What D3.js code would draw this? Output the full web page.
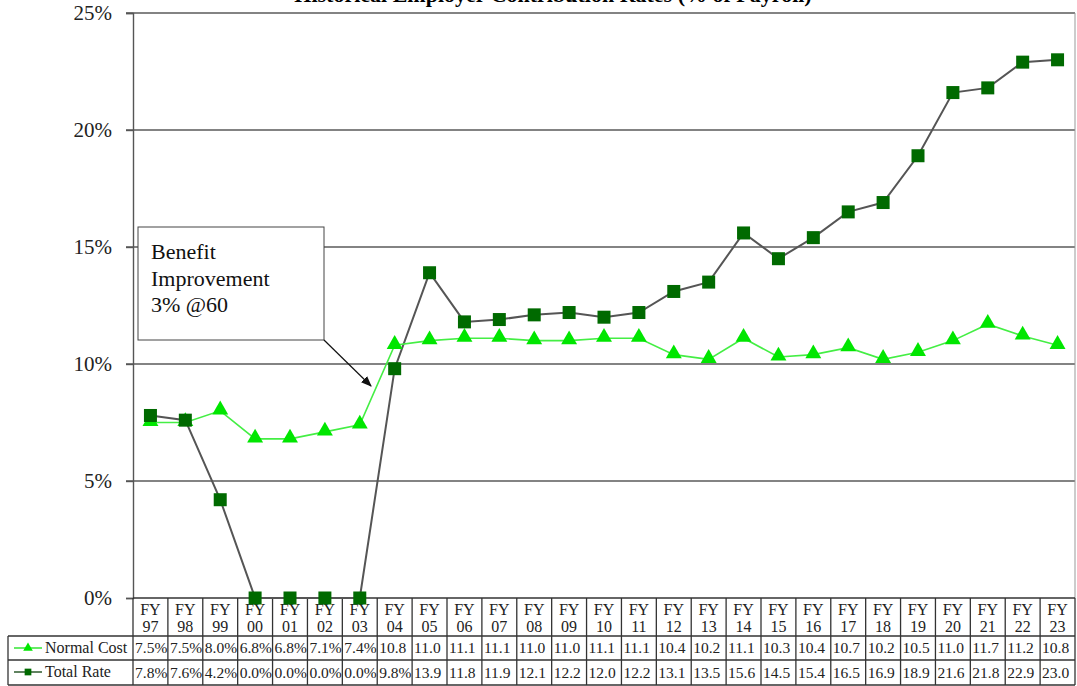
<!DOCTYPE html>
<html>
<head>
<meta charset="utf-8">
<script src="https://cdn.jsdelivr.net/npm/d3@7/dist/d3.min.js"></script>
<style>
  body { margin: 0; background: #fff; }
  svg { display: block; font-family: "Liberation Serif", "Times New Roman", serif; }
</style>
</head>
<body>
<svg id="chart"></svg>
<script>
// chart data
var years = ["97", "98", "99", "00", "01", "02", "03", "04", "05", "06", "07", "08", "09", "10",
             "11", "12", "13", "14", "15", "16", "17", "18", "19", "20", "21", "22", "23"];
var normalCost = [7.5, 7.5, 8.0, 6.8, 6.8, 7.1, 7.4, 10.8, 11.0, 11.1, 11.1, 11.0, 11.0, 11.1,
                  11.1, 10.4, 10.2, 11.1, 10.3, 10.4, 10.7, 10.2, 10.5, 11.0, 11.7, 11.2, 10.8];
var totalRate = [7.8, 7.6, 4.2, 0.0, 0.0, 0.0, 0.0, 9.8, 13.9, 11.8, 11.9, 12.1, 12.2, 12.0,
                 12.2, 13.1, 13.5, 15.6, 14.5, 15.4, 16.5, 16.9, 18.9, 21.6, 21.8, 22.9, 23.0];
var yTicks = [0, 5, 10, 15, 20, 25];
var seriesNames = ["Normal Cost", "Total Rate"];
var noteLines = ["Benefit", "Improvement", "3% @60"];
var title = "Historical Employer Contribution Rates (% of Payroll)";

(function () {
    var W = 1077, H = 686;
    var plot = {left: 133, right: 1075, top: 13, bottom: 598};
    var tbl = {left: 8, headBottom: 636, row1: 660, row2: 685};

    var svg = d3.select("#chart").attr("width", W).attr("height", H);

    var x = d3.scaleBand().domain(years).range([plot.left, plot.right]);
    var y = d3.scaleLinear().domain([0, 25]).range([plot.bottom, plot.top]);
    var cx = function (d) { return x(d) + x.bandwidth() / 2; };

    // title, cut at the top edge like the source image
    svg.append("text")
        .attr("x", 553).attr("y", 2)
        .attr("text-anchor", "middle")
        .style("font-size", "22px").style("font-weight", "bold")
        .text(title);

    // gridlines
    svg.append("g").selectAll("line")
        .data(yTicks.filter(function (t) { return t > 0; }))
        .enter().append("line")
        .attr("x1", plot.left - 7).attr("x2", plot.right)
        .attr("y1", function (d) { return y(d); }).attr("y2", function (d) { return y(d); })
        .attr("stroke", "#5a5a5a").attr("stroke-width", 1.7);

    // right frame
    svg.append("line")
        .attr("x1", plot.right).attr("x2", plot.right)
        .attr("y1", plot.top).attr("y2", plot.bottom)
        .attr("stroke", "#999").attr("stroke-width", 1);

    // y axis
    var yAxis = d3.axisLeft(y).tickValues(yTicks).tickSize(7).tickPadding(14)
        .tickFormat(function (d) { return d + "%"; });
    var gy = svg.append("g").attr("transform", "translate(" + plot.left + ",0)").call(yAxis);
    gy.select(".domain").attr("stroke", "#555").attr("stroke-width", 1.4);
    gy.selectAll(".tick line").attr("stroke", "#555").attr("stroke-width", 1.4);
    gy.selectAll(".tick text")
        .style("font-family", "'Liberation Serif', serif")
        .style("font-size", "21px").attr("fill", "#222");

    // data table
    var tg = svg.append("g").attr("stroke", "#333").attr("stroke-width", 1.3);
    tg.selectAll("line.v")
        .data(d3.range(years.length + 1))
        .enter().append("line")
        .attr("x1", function (i) { return i < years.length ? x(years[i]) : plot.right; })
        .attr("x2", function (i) { return i < years.length ? x(years[i]) : plot.right; })
        .attr("y1", plot.bottom).attr("y2", tbl.row2);
    [[plot.left, plot.bottom], [tbl.left, tbl.headBottom], [tbl.left, tbl.row1], [tbl.left, tbl.row2]]
        .forEach(function (r) {
            tg.append("line").attr("x1", r[0]).attr("x2", plot.right)
                .attr("y1", r[1]).attr("y2", r[1]);
        });
    tg.append("line").attr("x1", tbl.left).attr("x2", tbl.left)
        .attr("y1", tbl.headBottom).attr("y2", tbl.row2);

    var head = svg.append("g").selectAll("g").data(years).enter().append("g");
    head.append("text").attr("x", cx).attr("y", 615).attr("text-anchor", "middle")
        .style("font-size", "16px").attr("fill", "#222").text("FY");
    head.append("text").attr("x", cx).attr("y", 632).attr("text-anchor", "middle")
        .style("font-size", "16px").attr("fill", "#222").text(function (d) { return d; });

    var fmt = function (v) { return v < 10 ? v.toFixed(1) + "%" : v.toFixed(1); };
    [normalCost, totalRate].forEach(function (vals, r) {
        svg.append("g").selectAll("text").data(vals).enter().append("text")
            .attr("x", function (d, i) { return x(years[i]) + 2; })
            .attr("y", r === 0 ? 653 : 678)
            .style("font-size", "15.5px").attr("fill", "#222")
            .text(fmt);
    });

    // legend cells
    var legY = [648, 672];
    var legColors = [{line: "#33e633", mark: "#00e600"}, {line: "#2d5a2d", mark: "#006a00"}];
    seriesNames.forEach(function (name, i) {
        svg.append("line").attr("x1", 14).attr("x2", 42)
            .attr("y1", legY[i]).attr("y2", legY[i])
            .attr("stroke", legColors[i].line).attr("stroke-width", 1.5);
        svg.append("path")
            .attr("d", d3.symbol().type(i === 0 ? d3.symbolTriangle : d3.symbolSquare).size(i === 0 ? 40 : 45))
            .attr("transform", "translate(28," + legY[i] + ")")
            .attr("fill", legColors[i].mark);
        svg.append("text").attr("x", 45).attr("y", legY[i] + 5)
            .style("font-size", "16px").attr("fill", "#222").text(name);
    });

    // lines
    var line = d3.line().x(function (d, i) { return cx(years[i]); }).y(function (d) { return y(d); });

    svg.append("path").datum(totalRate).attr("d", line)
        .attr("fill", "none").attr("stroke", "#555").attr("stroke-width", 2);
    svg.append("path").datum(normalCost).attr("d", line)
        .attr("fill", "none").attr("stroke", "#44ee44").attr("stroke-width", 1.6);

    svg.append("g").selectAll("path").data(normalCost).enter().append("path")
        .attr("d", d3.symbol().type(d3.symbolTriangle).size(110))
        .attr("transform", function (d, i) { return "translate(" + cx(years[i]) + "," + (y(d) - 1) + ")"; })
        .attr("fill", "#00e600");

    svg.append("g").selectAll("rect").data(totalRate).enter().append("rect")
        .attr("x", function (d, i) { return cx(years[i]) - 6.5; })
        .attr("y", function (d) { return y(d) - 6.5; })
        .attr("width", 13).attr("height", 13)
        .attr("fill", "#006a00");

    // annotation
    var note = svg.append("g");
    note.append("rect").attr("x", 138).attr("y", 227).attr("width", 186).attr("height", 113)
        .attr("fill", "#fff").attr("stroke", "#444").attr("stroke-width", 1);
    note.selectAll("text").data(noteLines).enter().append("text")
        .attr("x", 151).attr("y", function (d, i) { return 259 + i * 26.5; })
        .style("font-size", "22px").attr("fill", "#111").text(function (d) { return d; });
    svg.append("defs").append("marker").attr("id", "arrow")
        .attr("viewBox", "0 0 10 10").attr("refX", 9).attr("refY", 5)
        .attr("markerWidth", 9).attr("markerHeight", 9).attr("orient", "auto")
        .append("path").attr("d", "M0,1 L10,5 L0,9 Z").attr("fill", "#111");
    note.append("line").attr("x1", 324).attr("y1", 340).attr("x2", 371).attr("y2", 386)
        .attr("stroke", "#111").attr("stroke-width", 1.2).attr("marker-end", "url(#arrow)");
})();
</script>
</body>
</html>
